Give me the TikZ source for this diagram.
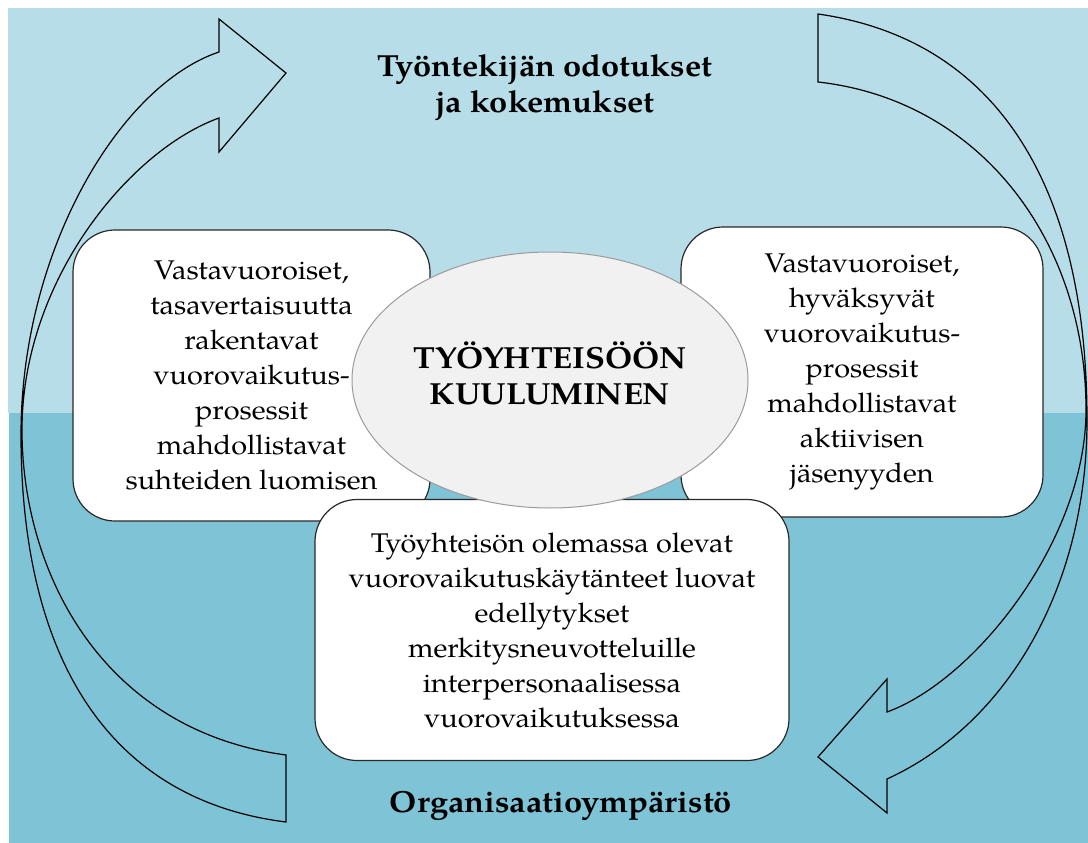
\documentclass[tikz,border=0pt]{standalone}
\usepackage{fontspec}
\setmainfont{TeX Gyre Pagella}[FakeStretch=1.07]
\usetikzlibrary{shapes.geometric}
\definecolor{bglight}{RGB}{183,221,232}
\definecolor{bgdark}{RGB}{127,195,214}
\definecolor{ellfill}{RGB}{241,241,241}
\definecolor{ellline}{RGB}{155,155,155}
\definecolor{boxline}{RGB}{40,40,40}
\begin{document}
\begin{tikzpicture}[x=1pt,y=-1pt,
  roundbox/.style={draw=boxline, line width=1.2pt, fill=white, rounded corners=42pt,
    align=center, inner sep=0pt, font=\fontsize{27}{35}\selectfont},
  bigarrow/.style={draw=black, line width=1.2pt, line join=miter},
  headline/.style={align=center, inner sep=0pt, font=\fontsize{30.5}{36}\selectfont\bfseries},
  coretext/.style={align=center, inner sep=0pt, font=\fontsize{30.5}{36}\selectfont\bfseries}]
\useasboundingbox (0,0) rectangle (1088,843);
% background
\fill[white] (0,0) rectangle (1088,843);
\fill[bglight] (8,8) rectangle (1088,413);
\fill[bgdark] (9,413) rectangle (1088,843);
% left curved arrow (up)
\draw[bigarrow] (286,822) -- (286,755)
  .. controls (100,730) and (22,570) .. (22,430)
  .. controls (22,280) and (130,150) .. (219,118)
  -- (219,152) -- (286,73) -- (219,19) -- (219,52)
  .. controls (120,85) and (21,250) .. (21,435)
  .. controls (21,660) and (110,800) .. (286,822) -- cycle;
% right curved arrow (down)
\draw[bigarrow] (818,14)
  .. controls (1000,40) and (1087,190) .. (1087,420)
  .. controls (1087,590) and (1005,725) .. (887,779)
  -- (887,813) -- (818,757) -- (887,679) -- (887,712)
  .. controls (975,680) and (1086,540) .. (1086,410)
  .. controls (1086,240) and (980,100) .. (818,82) -- cycle;
% boxes
\node[roundbox, minimum width=357pt, minimum height=291pt] (left) at (251.5,375.5)
  {Vastavuoroiset,\\tasavertaisuutta\\rakentavat\\vuorovaikutus-\\prosessit\\mahdollistavat\\suhteiden luomisen};
\node[roundbox, minimum width=362pt, minimum height=290pt] (right) at (862,372)
  {Vastavuoroiset,\\hyväksyvät\\vuorovaikutus-\\prosessit\\mahdollistavat\\aktiivisen\\jäsenyyden};
\node[roundbox, minimum width=474pt, minimum height=261pt] (bottom) at (552,630)
  {Työyhteisön olemassa olevat\\vuorovaikutuskäytänteet luovat\\edellytykset\\merkitysneuvotteluille\\interpersonaalisessa\\vuorovaikutuksessa};
% central ellipse
\node[ellipse, draw=ellline, line width=1pt, fill=ellfill, minimum width=396pt, minimum height=256pt, inner sep=0pt] (core) at (550,380) {};
\node[coretext] (coretxt) at (550,373) {TYÖYHTEISÖÖN\\KUULUMINEN};
% labels
\node[headline] (top) at (545,88) {Työntekijän odotukset\\ja kokemukset};
\node[headline] (org) at (561,806) {Organisaatioympäristö};
\end{tikzpicture}
\end{document}
